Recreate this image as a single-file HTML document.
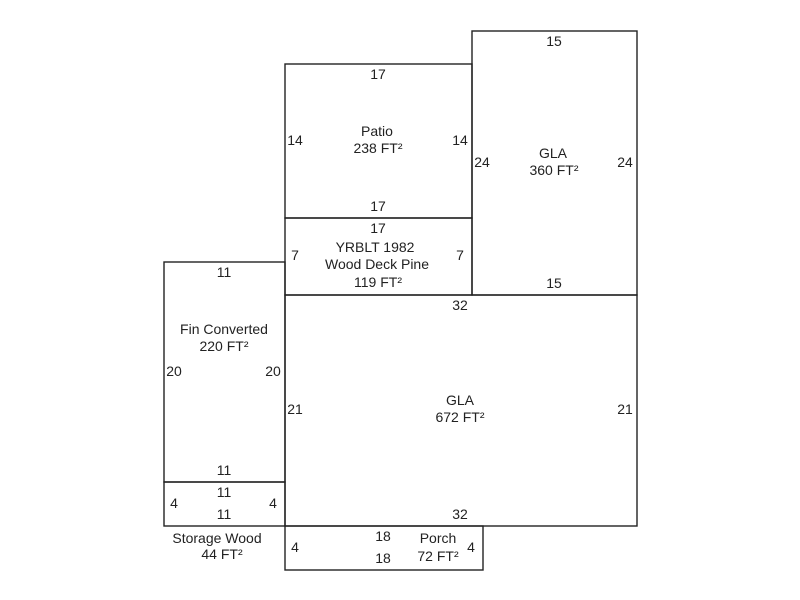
<!DOCTYPE html>
<html><head><meta charset="utf-8"><style>
html,body{margin:0;padding:0;background:#fff;}
svg{display:block;}
text{font-family:"Liberation Sans",Arial,sans-serif;font-size:14px;fill:#222;text-anchor:middle;}
</style></head><body>
<svg width="800" height="600" viewBox="0 0 800 600" xmlns="http://www.w3.org/2000/svg">
<g fill="none" stroke="#222" stroke-width="1.4">
<rect x="285" y="64" width="187" height="154"/>
<rect x="472" y="31" width="165" height="264"/>
<rect x="285" y="218" width="187" height="77"/>
<rect x="285" y="295" width="352" height="231"/>
<rect x="164" y="262" width="121" height="220"/>
<rect x="164" y="482" width="121" height="44"/>
<rect x="285" y="526" width="198" height="44"/>
</g>
<text x="378" y="79">17</text>
<text x="378" y="211">17</text>
<text x="295" y="145">14</text>
<text x="460" y="145">14</text>
<text x="377" y="136">Patio</text>
<text x="378" y="153">238 FT²</text>
<text x="554" y="46">15</text>
<text x="554" y="288">15</text>
<text x="482" y="167">24</text>
<text x="625" y="167">24</text>
<text x="553" y="158">GLA</text>
<text x="554" y="175">360 FT²</text>
<text x="378" y="233">17</text>
<text x="295" y="260">7</text>
<text x="460" y="260">7</text>
<text x="375" y="252">YRBLT 1982</text>
<text x="377" y="269">Wood Deck Pine</text>
<text x="378" y="287">119 FT²</text>
<text x="460" y="310">32</text>
<text x="460" y="519">32</text>
<text x="295" y="414">21</text>
<text x="625" y="414">21</text>
<text x="460" y="405">GLA</text>
<text x="460" y="422">672 FT²</text>
<text x="224" y="277">11</text>
<text x="224" y="475">11</text>
<text x="174" y="376">20</text>
<text x="273" y="376">20</text>
<text x="224" y="334">Fin Converted</text>
<text x="224" y="351">220 FT²</text>
<text x="224" y="497">11</text>
<text x="224" y="519">11</text>
<text x="174" y="508">4</text>
<text x="273" y="508">4</text>
<text x="217" y="543">Storage Wood</text>
<text x="222" y="559">44 FT²</text>
<text x="383" y="541">18</text>
<text x="383" y="563">18</text>
<text x="295" y="552">4</text>
<text x="471" y="552">4</text>
<text x="438" y="543">Porch</text>
<text x="438" y="561">72 FT²</text>
</svg>
</body></html>
